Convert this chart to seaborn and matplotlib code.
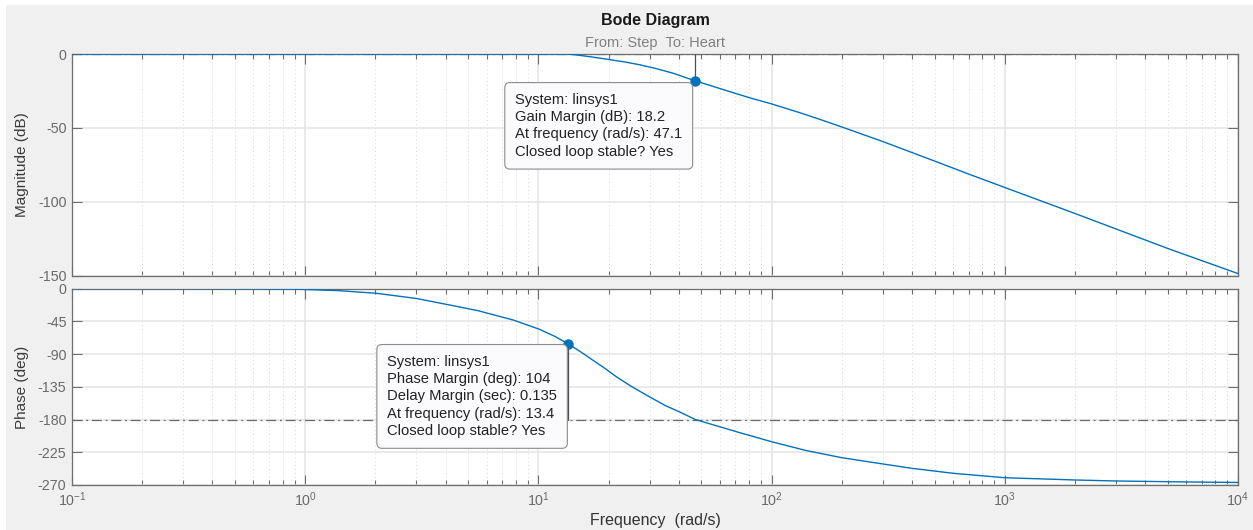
import numpy as np
import pandas as pd
import matplotlib
matplotlib.use("Agg")
import matplotlib.pyplot as plt
import seaborn as sns
from matplotlib.patches import Rectangle
from matplotlib.ticker import FixedLocator, LogLocator, NullFormatter

# ---------------- data ----------------
mag_freq = [0.1, 0.3, 1.0, 3.0, 5.0, 10.0, 13.4, 15.0, 16.6, 18.3, 20.0, 23.5, 27.2,
            32.0, 37.8, 42.0, 47.1, 55.0, 62.0, 70.0, 82.0, 100.0, 130.0, 160.0,
            200.0, 300.0, 500.0, 700.0, 1000.0, 2000.0, 5000.0, 10000.0]
mag_db = [0.0, 0.0, 0.0, 0.0, 0.0, 0.0, 0.0, -0.9, -1.8, -2.8, -3.7, -5.4, -7.3,
          -9.9, -13.0, -15.5, -18.2, -21.5, -24.1, -26.7, -30.0, -33.8, -39.4, -44.1,
          -49.4, -59.3, -72.5, -81.3, -90.4, -108.0, -131.7, -148.7]

phase_freq = [0.1, 0.3, 0.5, 0.7, 0.95, 1.4, 2.02, 3.0, 4.17, 5.5, 7.8, 10.1, 11.8,
              13.4, 15.2, 17.1, 19.3, 21.6, 25.0, 29.0, 35.0, 41.0, 47.1, 58.0, 73.0,
              100.0, 140.0, 200.0, 300.0, 400.0, 600.0, 1000.0, 2000.0, 3000.0, 6000.0, 10000.0]
phase_deg = [0.0, 0.0, -0.3, -0.6, -1.1, -3.0, -6.6, -13.7, -22.7, -30.4, -43.3, -56.0, -66.0,
             -76.0, -87.1, -98.4, -109.8, -121.3, -134.4, -146.3, -160.8, -170.7, -180.0, -188.6, -198.1,
             -210.5, -222.5, -232.5, -241.1, -247.1, -253.9, -260.0, -263.1, -264.5, -265.8, -266.5]

gm_freq, gm_db = 47.1, -18.2
pm_freq, pm_deg = 13.4, -76.0
gm_ref_db = 0.0
pm_ref_deg = -180.0

x_ticks = [0.1, 1, 10, 100, 1000, 10000]
x_tick_labels = ["$10^{-1}$", "$10^{0}$", "$10^{1}$", "$10^{2}$", "$10^{3}$", "$10^{4}$"]
mag_ticks = [0, -50, -100, -150]
phase_ticks = [0, -45, -90, -135, -180, -225, -270]

gm_text = ["System: linsys1", "Gain Margin (dB): 18.2",
           "At frequency (rad/s): 47.1", "Closed loop stable? Yes"]
pm_text = ["System: linsys1", "Phase Margin (deg): 104", "Delay Margin (sec): 0.135",
           "At frequency (rad/s): 13.4", "Closed loop stable? Yes"]

title = "Bode Diagram"
subtitle = "From: Step  To: Heart"
xlabel = "Frequency  (rad/s)"
ylabel_mag = "Magnitude (dB)"
ylabel_phase = "Phase (deg)"

# ---------------- style ----------------
sns.set_theme(style="white")
plt.rcParams["font.family"] = ["Liberation Sans", "DejaVu Sans"]
plt.rcParams["mathtext.default"] = "regular"

LINE = "#0072BD"
SPINE = "#6e6e6e"
TICKLBL = "#6a6a6a"

W, H = 1253, 530
fig = plt.figure(figsize=(W / 100, H / 100), dpi=100, facecolor="white")
fig.add_artist(Rectangle((6 / W, 0), 1, 1 - 5 / H, transform=fig.transFigure,
                         facecolor="#f0f0f0", edgecolor="none", zorder=-5))

left, right = 72 / W, 1238 / W
ax1 = fig.add_axes([left, 1 - 275.5 / H, right - left, (275.5 - 54) / H])
ax2 = fig.add_axes([left, 1 - 485 / H, right - left, (485 - 288.5) / H])


def style(ax, yticks):
    ax.set_facecolor("white")
    ax.set_xscale("log")
    ax.set_xlim(0.1, 1e4)
    ax.xaxis.set_major_locator(FixedLocator(x_ticks))
    ax.xaxis.set_minor_locator(LogLocator(base=10, subs=np.arange(2, 10), numticks=100))
    ax.xaxis.set_minor_formatter(NullFormatter())
    ax.yaxis.set_major_locator(FixedLocator(yticks))
    ax.set_ylim(min(yticks), max(yticks))
    ax.set_axisbelow(True)
    ax.grid(True, which="major", color="#e4e4e4", lw=1.1, ls="-")
    ax.grid(True, which="minor", axis="x", color="#d4d4d4", lw=0.7, ls=(0, (1, 3)))
    ax.tick_params(which="both", direction="in", top=True, right=True, bottom=True, left=True,
                   color=SPINE, width=0.8, labelcolor=TICKLBL, labelsize=10.3, pad=4)
    ax.tick_params(which="major", length=7)
    ax.tick_params(which="minor", length=3.5)
    for s in ax.spines.values():
        s.set_visible(True)
        s.set_color(SPINE)
        s.set_linewidth(0.9)


style(ax1, mag_ticks)
style(ax2, phase_ticks)

mag_df = pd.DataFrame({"freq": mag_freq, "mag": mag_db})
ph_df = pd.DataFrame({"freq": phase_freq, "phase": phase_deg})

sns.lineplot(data=mag_df, x="freq", y="mag", ax=ax1, color=LINE, lw=1.0,
             estimator=None, sort=True, legend=False, zorder=4)
sns.lineplot(data=ph_df, x="freq", y="phase", ax=ax2, color=LINE, lw=1.0,
             estimator=None, sort=True, legend=False, zorder=4)

ax1.set_xticklabels([])
ax2.set_xticklabels(x_tick_labels)
ax1.set_yticklabels([str(v) for v in mag_ticks])
ax2.set_yticklabels([str(v) for v in phase_ticks])

# margin reference lines (dash-dot)
ax1.axhline(gm_ref_db, color="#6a6a6a", lw=0.9, ls=(0, (8, 3, 1.5, 3)), zorder=3)
ax2.axhline(pm_ref_deg, color="#6a6a6a", lw=0.9, ls=(0, (8, 3, 1.5, 3)), zorder=3)
ax1.plot([gm_freq, gm_freq], [gm_ref_db, gm_db], color="#505050", lw=0.9, zorder=3)
ax2.plot([pm_freq, pm_freq], [pm_ref_deg, pm_deg], color="#505050", lw=0.9, zorder=3)

ax1.plot([gm_freq], [gm_db], "o", color=LINE, ms=6.5, zorder=6, clip_on=False)
ax2.plot([pm_freq], [pm_deg], "o", color=LINE, ms=6.5, zorder=6, clip_on=False)

box = dict(boxstyle="round,pad=0.7,rounding_size=0.35", fc="#fbfbfe", ec="#8c8c8c", lw=0.8)
ax1.annotate("\n".join(gm_text), xy=(gm_freq, gm_db), xytext=(-13, -12),
             textcoords="offset pixels", ha="right", va="top", multialignment="left",
             fontsize=10.6, color="#222222", linespacing=1.3, bbox=box, zorder=7)
ax2.annotate("\n".join(pm_text), xy=(pm_freq, pm_deg), xytext=(-11, -11),
             textcoords="offset pixels", ha="right", va="top", multialignment="left",
             fontsize=10.6, color="#222222", linespacing=1.3, bbox=box, zorder=7)

ax1.set_xlabel("")
ax2.set_xlabel("")
ax1.set_ylabel("")
ax2.set_ylabel("")

cx = (72 + 1238) / 2 / W
fig.text(cx, 1 - 20 / H, title, ha="center", va="center", fontsize=11.5,
         fontweight="bold", color="#1a1a1a")
fig.text(cx, 1 - 43 / H, subtitle, ha="center", va="center", fontsize=10.5, color="#808080")
fig.text(cx, 1 - 520 / H, xlabel, ha="center", va="center", fontsize=11.5, color="#333333")
fig.text(22 / W, 1 - 165 / H, ylabel_mag, ha="center", va="center", rotation=90,
         fontsize=11, color="#3a3a3a")
fig.text(22 / W, 1 - 387 / H, ylabel_phase, ha="center", va="center", rotation=90,
         fontsize=11, color="#3a3a3a")

fig.savefig("out.png", dpi=100, facecolor=fig.get_facecolor())
